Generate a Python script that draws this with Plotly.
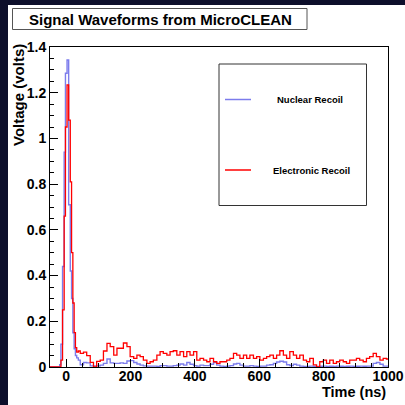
import plotly.graph_objects as go

# ---- data ----
time_ns = [
    -50, -20, -16, -11, -6, -2, 3, 8, 13, 17, 21, 25, 29, 33,
    38, 44, 54, 64, 75, 85, 95, 106, 116, 127,
    137, 148, 158, 168, 178, 189, 199, 210, 220, 230,
    240, 251, 261, 271, 282, 292, 302, 313, 323, 333,
    344, 354, 365, 375, 385, 396, 406, 416, 427, 437,
    447, 458, 468, 478, 489, 499, 509, 520, 530, 540,
    551, 561, 571, 582, 592, 602, 613, 623, 633, 644,
    654, 664, 675, 685, 695, 706, 716, 726, 737, 747,
    757, 768, 778, 788, 799, 809, 819, 830, 840, 850,
    861, 871, 881, 892, 902, 912, 923, 933, 943, 954,
    964, 975, 985, 995, 1000,
]

nuclear_recoil = [
    0, 0.01, 0.10, 0.44, 0.94, 1.285, 1.343, 0.71, 0.42, 0.30, 0.15, 0.08, 0.05, 0.04,
    0.03, 0.01, 0.02, 0.018, 0.005, 0.005, 0.005, 0.008, 0.016, 0.035,
    0.018, 0.016, 0.016, 0.018, 0.016, 0.026, 0.028, 0.02, 0.013, 0.008,
    0.005, 0.004, 0.004, 0.004, 0.002, 0.006, 0.006, 0.004, 0.004, 0.006,
    0.008, 0.013, 0.008, 0.02, 0.012, 0.006, 0.004, 0.008, 0.006, 0.006,
    0.012, 0.02, 0.008, 0.004, 0.002, 0.004, 0.006, 0.013, 0.016, 0.008,
    0.004, 0.004, 0.006, 0.004, 0.002, 0.004, 0.004, 0.008, 0.01, 0.016,
    0.022, 0.025, 0.022, 0.01, 0.006, 0.012, 0.008, 0.004, 0.002, 0.002,
    0.004, 0.002, 0.002, 0.003, 0.004, 0.002, 0.003, 0.002, 0.004, 0.003,
    0.002, 0.003, 0.004, 0.002, 0.003, 0.004, 0.003, 0.004, 0.004, 0.016,
    0.02, 0.012, 0.004, 0.004, 0.004,
]

electronic_recoil = [
    0, 0.0, 0.03, 0.25, 0.66, 1.05, 1.234, 1.08, 0.81, 0.50, 0.28, 0.15, 0.085, 0.065,
    0.07, 0.06, 0.065, 0.05, 0.02, 0.0, 0.025, 0.03, 0.07, 0.103,
    0.089, 0.052, 0.082, 0.082, 0.105, 0.089, 0.045, 0.038, 0.052, 0.045,
    0.03, 0.016, 0.023, 0.03, 0.052, 0.067, 0.06, 0.052, 0.067, 0.071,
    0.052, 0.067, 0.045, 0.067, 0.052, 0.067, 0.03, 0.038, 0.03, 0.023,
    0.038, 0.023, 0.016, 0.023, 0.023, 0.03, 0.038, 0.06, 0.052, 0.038,
    0.052, 0.038, 0.052, 0.038, 0.045, 0.03, 0.038, 0.045, 0.052, 0.038,
    0.052, 0.071, 0.052, 0.038, 0.067, 0.052, 0.038, 0.052, 0.03, 0.023,
    0.038, 0.009, 0.0, 0.023, 0.03, 0.016, 0.03, 0.016, 0.023, 0.03,
    0.023, 0.016, 0.03, 0.03, 0.038, 0.03, 0.023, 0.038, 0.045, 0.06,
    0.045, 0.03, 0.038, 0.035, 0.035,
]

series_names = ["Nuclear Recoil", "Electronic Recoil"]
series_colors = ["#7c7cec", "#ff0000"]

x_ticks = [0, 200, 400, 600, 800, 1000]
y_ticks = [0, 0.2, 0.4, 0.6, 0.8, 1, 1.2, 1.4]
y_tick_labels = ["0", "0.2", "0.4", "0.6", "0.8", "1", "1.2", "1.4"]

# ---- layout geometry (pixels) ----
W = H = 405
L, R, T, B = 50, 17, 47, 38
PW, PH = W - L - R, H - T - B


def px(x):
    return (x - L) / PW


def py(y):
    return (H - B - y) / PH


FONT = "Liberation Sans, Arial, sans-serif"
NAVY = "#0d0f2b"

fig = go.Figure()
fig.add_trace(go.Scatter(
    x=time_ns, y=nuclear_recoil, mode="lines", line_shape="hv",
    line=dict(color=series_colors[0], width=1.4), name=series_names[0],
))
fig.add_trace(go.Scatter(
    x=time_ns, y=electronic_recoil, mode="lines", line_shape="hv",
    line=dict(color=series_colors[1], width=1.3), name=series_names[1],
))

shapes = [
    # dark slide background strips
    dict(type="rect", xref="paper", yref="paper", x0=px(0), x1=px(8), y0=py(405), y1=py(0),
         fillcolor=NAVY, line_width=0, layer="below"),
    dict(type="rect", xref="paper", yref="paper", x0=px(0), x1=px(405), y0=py(5), y1=py(0),
         fillcolor=NAVY, line_width=0, layer="below"),
    # title box
    dict(type="rect", xref="paper", yref="paper", x0=px(12.5), x1=px(307), y0=py(29.5), y1=py(8.5),
         fillcolor="white", line=dict(color="#555555", width=1)),
    # legend box
    dict(type="rect", xref="paper", yref="paper", x0=px(219), x1=px(366.5), y0=py(205.5), y1=py(64),
         fillcolor="rgba(255,255,255,0)", line=dict(color="#333333", width=1)),
]

annotations = [
    dict(text="Signal Waveforms from MicroCLEAN", xref="paper", yref="paper",
         x=px(160.5), y=py(19), xanchor="center", yanchor="middle", showarrow=False,
         font=dict(family=FONT, size=15, color="black", weight="bold")),
    dict(text="Time (ns)", xref="paper", yref="paper", x=px(388), y=py(402),
         xanchor="right", yanchor="bottom", showarrow=False,
         font=dict(family=FONT, size=14.5, color="black", weight="bold")),
    dict(text="Voltage (volts)", xref="paper", yref="paper", x=px(18), y=py(42),
         xanchor="center", yanchor="top", textangle=-90, showarrow=False,
         font=dict(family=FONT, size=15, color="black", weight="bold")),
]

# legend entries (keys + labels) inside the legend box
legend_rows_y = [99.5, 170]
legend_text_cx = [310, 311]
for name, color, ly, cx in zip(series_names, series_colors, legend_rows_y, legend_text_cx):
    shapes.append(dict(type="line", xref="paper", yref="paper", x0=px(225), x1=px(251),
                       y0=py(ly), y1=py(ly), line=dict(color=color, width=1.5)))
    annotations.append(dict(text=name, xref="paper", yref="paper", x=px(cx), y=py(ly),
                            xanchor="center", yanchor="middle", showarrow=False,
                            font=dict(family=FONT, size=9.5, color="black", weight="bold")))

fig.update_layout(
    width=W, height=H,
    margin=dict(l=L, r=R, t=T, b=B),
    paper_bgcolor="white", plot_bgcolor="white",
    shapes=shapes, annotations=annotations,
    showlegend=False,
    xaxis=dict(range=[-50, 1000], tickvals=x_ticks, ticks="inside", ticklen=8,
               tickcolor="black", showline=True, linecolor="black", linewidth=1,
               mirror=True, showgrid=False, zeroline=False, automargin=False,
               ticklabelstandoff=-4,
               minor=dict(dtick=50, tick0=0, ticks="inside", ticklen=4, tickcolor="black"),
               tickfont=dict(family=FONT, size=14, color="black", weight="bold")),
    yaxis=dict(range=[0, 1.4], tickvals=y_ticks, ticktext=y_tick_labels, ticks="inside",
               ticklen=8, tickcolor="black", showline=True, linecolor="black",
               linewidth=1, mirror=True, showgrid=False, zeroline=False, automargin=False,
               minor=dict(dtick=0.05, tick0=0, ticks="inside", ticklen=4, tickcolor="black"),
               tickfont=dict(family=FONT, size=14, color="black", weight="bold")),
)

fig.write_html(
    "out.html",
    config={"displayModeBar": False},
    post_script="document.body.style.margin='0';document.body.style.overflow='hidden';",
)
